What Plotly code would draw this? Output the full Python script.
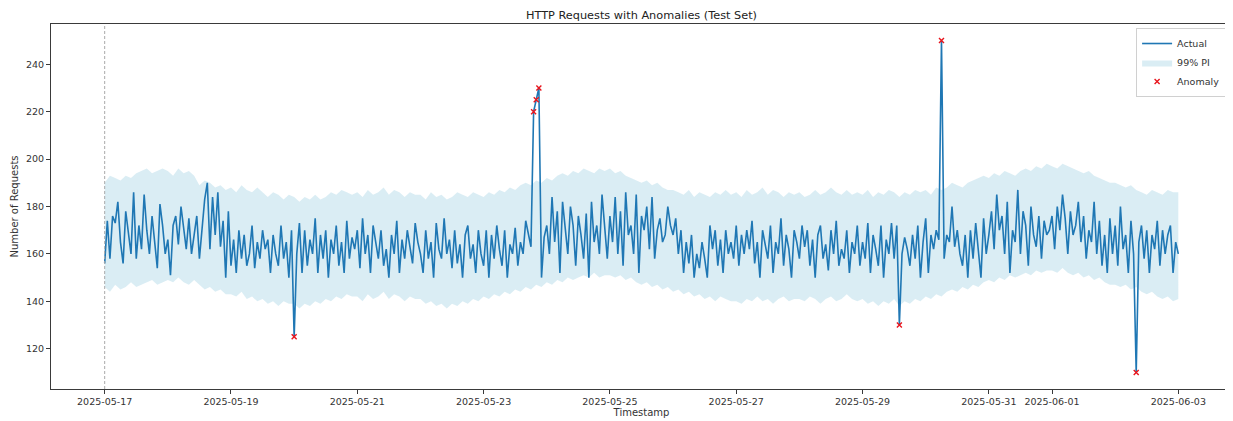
import pandas as pd
import plotly.graph_objects as go

# ---------------- data ----------------
start_time = "2025-05-17 00:00"
split_time = "2025-05-17 00:00"

# hourly actual requests, 2025-05-17 00:00 .. 2025-06-03 00:00
actual = [
    # 05-17
    156, 174, 158, 176, 173, 182, 165, 156, 178, 168, 160, 186, 158, 172, 162, 185, 170, 160, 176, 165, 154, 181, 172, 160,
    # 05-18
    166, 151, 172, 176, 164, 180, 170, 162, 175, 160, 168, 176, 158, 172, 183, 190, 162, 184, 168, 186, 163, 174, 150, 178,
    # 05-19
    155, 166, 152, 170, 158, 168, 155, 160, 172, 154, 165, 158, 170, 162, 166, 152, 168, 160, 155, 172, 158, 165, 150, 170,
    # 05-20
    125, 160, 173, 152, 170, 155, 166, 160, 175, 152, 168, 158, 170, 150, 166, 160, 172, 155, 165, 152, 174, 158, 167, 162,
    # 05-21
    170, 154, 175, 160, 168, 152, 172, 165, 158, 170, 155, 162, 150, 168, 160, 174, 152, 166, 158, 170, 162, 156, 173, 165,
    # 05-22
    160, 152, 170, 158, 165, 150, 173, 162, 158, 175, 160, 166, 154, 170, 156, 164, 150, 168, 172, 158, 164, 152, 170, 160,
    # 05-23
    155, 170, 150, 168, 158, 172, 162, 155, 170, 150, 164, 160, 171, 155, 165, 160, 174, 168, 163, 220, 225, 230, 150, 167,
    # 05-24
    172, 160, 184, 165, 178, 152, 182, 170, 160, 180, 172, 155, 176, 168, 158, 177, 150, 182, 165, 172, 160, 185, 170, 158,
    # 05-25
    176, 165, 184, 160, 178, 155, 186, 168, 172, 160, 185, 152, 176, 170, 180, 162, 184, 158, 170, 175, 165, 168, 180, 172,
    # 05-26
    168, 175, 160, 170, 152, 165, 156, 168, 150, 160, 154, 165, 158, 150, 172, 162, 170, 155, 166, 152, 170, 160, 165, 158,
    # 05-27
    172, 155, 168, 160, 170, 162, 174, 156, 165, 150, 170, 163, 158, 172, 152, 165, 160, 175, 155, 168, 162, 150, 170, 165,
    # 05-28
    158, 172, 163, 170, 155, 166, 150, 168, 172, 158, 164, 153, 170, 160, 174, 155, 162, 158, 170, 152, 165, 160, 172, 155,
    # 05-29
    165, 158, 173, 152, 168, 162, 155, 172, 150, 166, 160, 173, 158, 172, 130, 160, 167, 162, 155, 168, 158, 172, 150, 165,
    # 05-30
    175, 152, 168, 162, 170, 166, 250, 158, 168, 165, 180, 163, 170, 160, 155, 168, 150, 170, 158, 173, 162, 150, 175, 160,
    # 05-31
    168, 178, 162, 185, 170, 176, 160, 182, 152, 170, 165, 187, 160, 178, 172, 155, 180, 168, 163, 176, 158, 174, 168, 170,
    # 06-01
    176, 162, 180, 170, 185, 175, 160, 178, 168, 172, 182, 165, 176, 158, 170, 165, 182, 160, 174, 155, 168, 152, 175, 160,
    # 06-02
    172, 155, 180, 162, 168, 152, 174, 160, 110, 165, 172, 158, 170, 152, 168, 162, 174, 155, 170, 160, 168, 172, 152, 165,
    # 06-03
    160,
]

# 99% prediction interval, every 2 hours
pi_upper = [
    190, 193, 192, 191, 193, 192, 194, 195, 196, 194, 195, 196,
    195, 193, 196, 194, 195, 193, 189, 191, 190, 188, 189, 187,
    188, 186, 189, 187, 186, 188, 186, 184, 186, 185, 183, 185,
    184, 182, 184, 183, 185, 183, 184, 186, 185, 187, 186, 185,
    186, 184, 187, 185, 186, 188, 185, 187, 186, 184, 186, 185,
    185, 183, 186, 184, 185, 183, 184, 186, 185, 184, 186, 185,
    184, 186, 185, 187, 186, 188, 187, 189, 190, 189, 191, 190,
    192, 191, 193, 194, 193, 195, 194, 196, 195, 194, 196, 195,
    196, 194, 195, 193, 192, 191, 190, 191, 189, 190, 188, 187,
    187, 186, 185, 187, 184, 186, 185, 184, 186, 185, 187, 185,
    186, 184, 187, 185, 186, 188, 185, 187, 186, 184, 186, 185,
    186, 184, 185, 187, 185, 186, 188, 186, 185, 187, 185, 186,
    185, 187, 184, 186, 185, 187, 186, 184, 186, 185, 187, 186,
    187, 185, 188, 187, 188, 190, 189, 188, 190, 191, 192, 193,
    192, 194, 193, 195, 194, 193, 195, 196, 195, 197, 196, 198,
    197, 196, 198, 197, 196, 195, 194, 195, 193, 192, 191, 190,
    190, 189, 188, 189, 187, 186, 185, 187, 186, 185, 187, 186,
    186,
]
pi_lower = [
    146, 144, 147, 145, 146, 148, 146, 147, 148, 149, 147, 148,
    149, 148, 150, 148, 147, 149, 147, 145, 146, 144, 145, 143,
    143, 142, 144, 141, 142, 140, 141, 139, 140, 138, 140, 139,
    139, 137, 139, 138, 140, 139, 141, 140, 142, 141, 143, 142,
    142, 140, 143, 141, 142, 144, 141, 143, 142, 140, 142, 141,
    141, 139, 140, 138, 139, 137, 139, 138, 140, 139, 141, 140,
    142, 141, 143, 142, 144, 143, 145, 144, 146, 145, 147, 146,
    148, 147, 149, 148, 150, 149, 150, 151, 150, 152, 150, 151,
    151, 150, 151, 149, 150, 148, 147, 148, 146, 147, 145, 146,
    144, 145, 143, 144, 142, 143, 141, 142, 140, 142, 141, 140,
    140, 139, 141, 140, 142, 140, 141, 139, 141, 142, 140, 141,
    141, 140, 142, 141, 139, 141, 142, 140, 141, 143, 141, 140,
    141, 139, 140, 138, 140, 139, 141, 138, 140, 139, 141, 140,
    142, 141, 143, 142, 144, 145, 144, 146, 145, 147, 146, 148,
    149, 148, 150, 149, 151, 150, 151, 152, 151, 153, 152, 153,
    153, 152, 154, 152, 151, 152, 150, 151, 149, 150, 148, 147,
    147, 146, 147, 145, 146, 144, 143, 144, 142, 141, 142, 140,
    141,
]

anomaly_times = ["2025-05-20 00:00", "2025-05-23 19:00", "2025-05-23 20:00",
                 "2025-05-23 21:00", "2025-05-29 14:00", "2025-05-30 06:00",
                 "2025-06-02 08:00"]
anomaly_values = [125, 220, 225, 230, 130, 250, 110]

tick_labels = ["2025-05-17", "2025-05-19", "2025-05-21", "2025-05-23", "2025-05-25",
               "2025-05-27", "2025-05-29", "2025-05-31", "2025-06-01", "2025-06-03"]
y_ticks = [120, 140, 160, 180, 200, 220, 240]

# ---------------- figure ----------------
times = pd.date_range(start_time, periods=len(actual), freq="h")
pi_times = pd.date_range(start_time, periods=len(pi_upper), freq="2h")

FONT = "DejaVu Sans"
AX = "#3a3a3a"

fig = go.Figure()
fig.add_trace(go.Scatter(x=pi_times, y=pi_lower, mode="lines", line=dict(width=0),
                         showlegend=False, hoverinfo="skip"))
fig.add_trace(go.Scatter(x=pi_times, y=pi_upper, mode="lines", line=dict(width=0),
                         fill="tonexty", fillcolor="rgba(173,216,230,0.45)",
                         name="99% PI", legendrank=2))
fig.add_trace(go.Scatter(x=times, y=actual, mode="lines",
                         line=dict(color="#1f77b4", width=1.6),
                         name="Actual", legendrank=1))
fig.add_trace(go.Scatter(x=pd.to_datetime(anomaly_times), y=anomaly_values, mode="markers",
                         marker=dict(symbol="x-thin", size=5,
                                     line=dict(color="#e8141c", width=1.4), color="#e8141c"),
                         name="Anomaly", legendrank=3))

t0, t1 = times[0], times[-1]
pad = (t1 - t0) * 0.05
all_lo = min(min(actual), min(pi_lower), min(anomaly_values))
all_hi = max(max(actual), max(pi_upper), max(anomaly_values))
ypad = (all_hi - all_lo) * 0.05

fig.add_shape(type="line", x0=pd.Timestamp(split_time), x1=pd.Timestamp(split_time),
              yref="paper", y0=0, y1=1, line=dict(color="#aaaaaa", width=1, dash="3px,2px"))

axis_common = dict(showline=True, linecolor=AX, linewidth=1, mirror=True,
                   ticks="outside", ticklen=4, tickcolor=AX, showgrid=False,
                   zeroline=False, tickfont=dict(size=9.5, color="#333", family=FONT))

fig.update_xaxes(range=[t0 - pad, t1 + pad], tickvals=pd.to_datetime(tick_labels),
                 ticktext=tick_labels,
                 title=dict(text="Timestamp", font=dict(size=10, color="#333", family=FONT), standoff=0),
                 **axis_common)
fig.update_yaxes(range=[all_lo - ypad, all_hi + ypad], tickvals=y_ticks,
                 title=dict(text="Number of Requests", font=dict(size=10, color="#333", family=FONT), standoff=5),
                 **axis_common)

# the page body adds an 8px offset, so the figure is sized to end at the window edge
fig.update_layout(
    width=1225, height=413,
    margin=dict(l=43, r=1, t=16, b=32),
    paper_bgcolor="white", plot_bgcolor="white",
    font=dict(family=FONT, size=9.5, color="#333"),
    title=dict(text="HTTP Requests with Anomalies (Test Set)", xref="paper", x=0.5, xanchor="center",
               yref="container", y=0.983, yanchor="middle", font=dict(size=11.3, color="#222", family=FONT)),
    legend=dict(x=0.995, xanchor="right", y=0.989, yanchor="top", traceorder="normal",
                bgcolor="rgba(255,255,255,0.8)", bordercolor="#d0d0d0", borderwidth=1,
                font=dict(size=9.5, color="#333", family=FONT), tracegroupgap=0,
                itemwidth=30),
    showlegend=True,
)

fig.write_html("out.html")
